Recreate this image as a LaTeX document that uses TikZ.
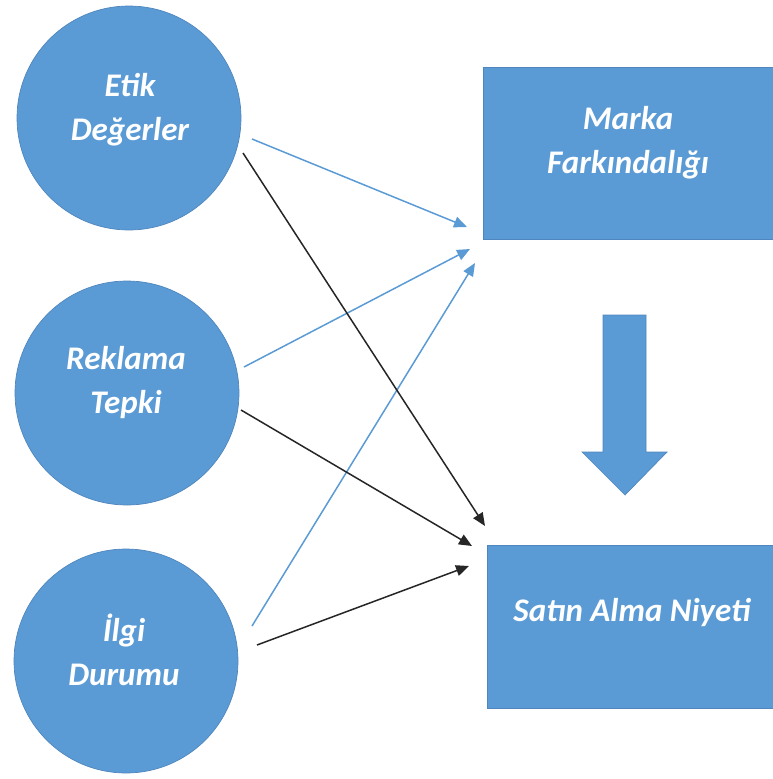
\documentclass[tikz,border=0pt]{standalone}
\usepackage{fontspec}
\setmainfont{Carlito}
\usetikzlibrary{arrows.meta}
\definecolor{fillblue}{HTML}{5B9BD5}
\definecolor{edgeblue}{HTML}{4F86BD}
\definecolor{arrowblue}{HTML}{5B9BD5}
\definecolor{arrowdark}{HTML}{262626}
\begin{document}
\begin{tikzpicture}[x=1pt,y=-1pt,
  circ/.style={circle, fill=fillblue, draw=edgeblue, line width=0.7pt, minimum size=224pt, inner sep=0pt},
  box/.style={rectangle, fill=fillblue, draw=edgeblue, line width=0.7pt, inner sep=0pt},
  lbl/.style={text=white, font=\fontsize{33}{44}\selectfont\bfseries\itshape, align=center, inner sep=0pt},
  bluearr/.style={draw=arrowblue, line width=1.5pt, -{Triangle[length=13pt,width=11pt]}},
  darkarr/.style={draw=arrowdark, line width=1.5pt, -{Triangle[length=13pt,width=11pt]}},
  blockarr/.style={fill=fillblue, draw=edgeblue, line width=0.7pt}]
\useasboundingbox (0,0) rectangle (773,779);

% circles
\node[circ] (etik) at (129,118) {};
\node[circ] (rek) at (127,393) {};
\node[circ] (ilgi) at (126,661) {};
\node[lbl] (etikt) at (130,110) {Etik\\Değerler};
\node[lbl] (rekt) at (126,383) {Reklama\\Tepki};
\node[lbl] (ilgit) at (124,650) {İlgi\\Durumu};

% boxes
\node[box, minimum width=290pt, minimum height=172pt] (marka) at (628,153) {};
\node[box, minimum width=286pt, minimum height=163pt] (satin) at (630,626.5) {};
\node[lbl] (markat) at (628,143) {Marka\\Farkındalığı};
\node[lbl] (satint) at (632,613) {Satın Alma Niyeti};

% block arrow
\draw[blockarr] (603,315) -- (646,315) -- (646,452) -- (667,452) -- (625,495) -- (582,452) -- (603,452) -- cycle;

% arrow end points
\coordinate (b1s) at (252,139);
\coordinate (b1e) at (467,227);
\coordinate (b2s) at (244,367);
\coordinate (b2e) at (470,249);
\coordinate (b3s) at (252,626);
\coordinate (b3e) at (475,263);
\coordinate (k1s) at (243,153);
\coordinate (k1e) at (485,526);
\coordinate (k2s) at (241,410);
\coordinate (k2e) at (472,546);
\coordinate (k3s) at (257,645);
\coordinate (k3e) at (469,566);

\draw[bluearr] (b1s) -- (b1e);
\draw[bluearr] (b2s) -- (b2e);
\draw[bluearr] (b3s) -- (b3e);
\draw[darkarr] (k1s) -- (k1e);
\draw[darkarr] (k2s) -- (k2e);
\draw[darkarr] (k3s) -- (k3e);
\end{tikzpicture}
\end{document}
